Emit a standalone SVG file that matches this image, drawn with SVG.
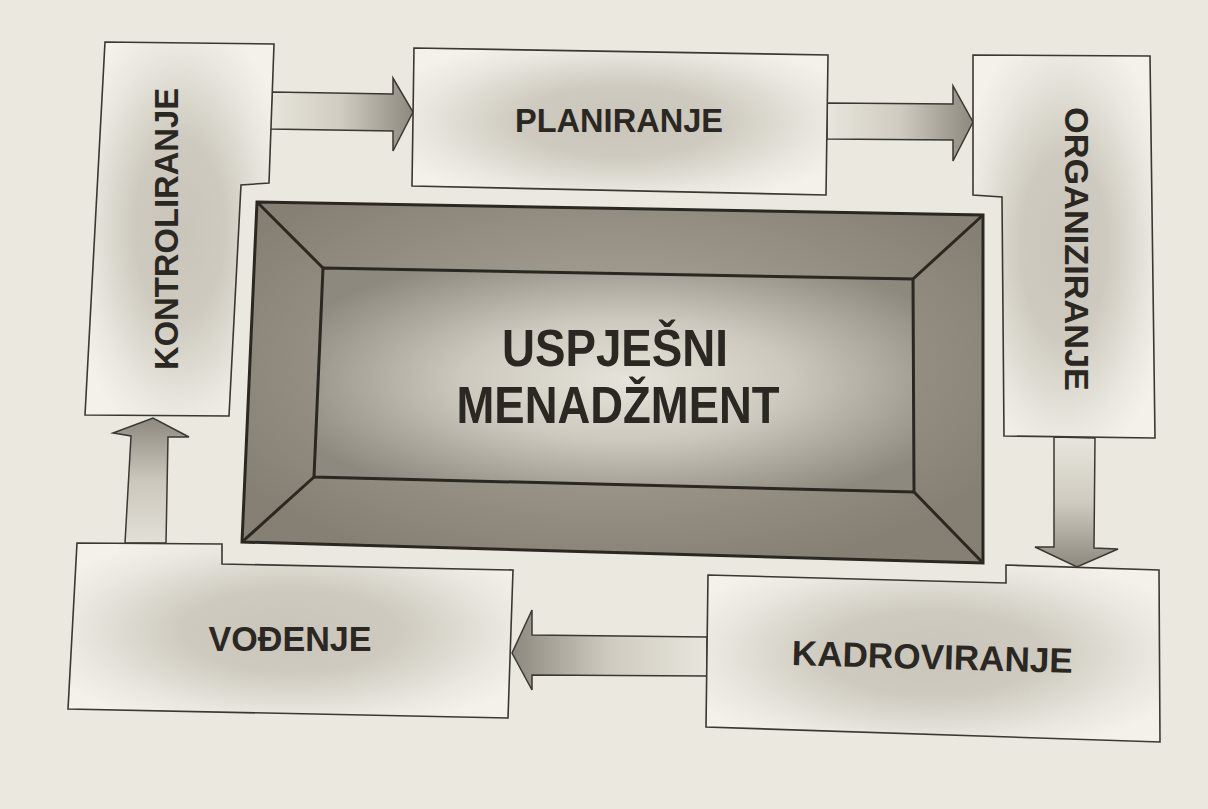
<svg xmlns="http://www.w3.org/2000/svg" width="1208" height="809" viewBox="0 0 1208 809">
  <defs>
    <radialGradient id="boxFill" cx="0.5" cy="0.5" r="0.6">
      <stop offset="0" stop-color="#c9c5ba"/>
      <stop offset="0.4" stop-color="#cecabf"/>
      <stop offset="0.8" stop-color="#e9e7df"/>
      <stop offset="1" stop-color="#f3f1ea"/>
    </radialGradient>
    <radialGradient id="bevelFill" cx="0.5" cy="0.45" r="0.6">
      <stop offset="0" stop-color="#b1aca0"/>
      <stop offset="1" stop-color="#857f74"/>
    </radialGradient>
    <radialGradient id="innerFill" cx="0.52" cy="0.5" r="0.6">
      <stop offset="0" stop-color="#e6e3da"/>
      <stop offset="0.45" stop-color="#cdc9be"/>
      <stop offset="1" stop-color="#8e897e"/>
    </radialGradient>
    <linearGradient id="arrRight" x1="0" y1="0" x2="1" y2="0">
      <stop offset="0" stop-color="#e8e5dc"/>
      <stop offset="0.5" stop-color="#cfcbc0"/>
      <stop offset="1" stop-color="#8e897e"/>
    </linearGradient>
    <linearGradient id="arrLeft" x1="1" y1="0" x2="0" y2="0">
      <stop offset="0" stop-color="#e8e5dc"/>
      <stop offset="0.5" stop-color="#cfcbc0"/>
      <stop offset="1" stop-color="#8e897e"/>
    </linearGradient>
    <linearGradient id="arrDown" x1="0" y1="0" x2="0" y2="1">
      <stop offset="0" stop-color="#e8e5dc"/>
      <stop offset="0.5" stop-color="#cfcbc0"/>
      <stop offset="1" stop-color="#8e897e"/>
    </linearGradient>
    <linearGradient id="arrUp" x1="0" y1="1" x2="0" y2="0">
      <stop offset="0" stop-color="#e2dfd6"/>
      <stop offset="0.5" stop-color="#cbc7bc"/>
      <stop offset="1" stop-color="#8e897e"/>
    </linearGradient>
  </defs>
  <style>
    .box { fill: url(#boxFill); stroke: #3b3731; stroke-width: 1.6; stroke-linejoin: miter; }
    .arrow { stroke: #3b3731; stroke-width: 1.5; stroke-linejoin: miter; }
    .bevel { fill: url(#bevelFill); stroke: #2b2721; stroke-width: 3; stroke-linejoin: miter; }
    .inner { fill: url(#innerFill); stroke: #2b2721; stroke-width: 3; stroke-linejoin: miter; }
    .edge { stroke: #2b2721; stroke-width: 3; fill: none; }
    .lbl { font-family: "Liberation Sans", Arial, sans-serif; font-weight: bold; fill: #2b2722; text-anchor: middle; }
  </style>

  <rect x="0" y="0" width="1208" height="809" fill="#ebe8df"/>

  <g id="connectors">
    <polygon class="arrow" fill="url(#arrRight)" points="272,92 393,94 393,78 413,112 393,151 393,131 270,129"/>
    <polygon class="arrow" fill="url(#arrRight)" points="827,103 953,104 953,86 973,122 953,161 953,140 827,139"/>
    <polygon class="arrow" fill="url(#arrDown)" points="1054,437 1095,438 1094,548 1118,549 1077,567 1035,547 1054,547"/>
    <polygon class="arrow" fill="url(#arrLeft)" points="707,637 532,635 532,610 512,653 532,690 532,675 707,676"/>
    <polygon class="arrow" fill="url(#arrUp)" points="125,543 131,436 113,433 153,418 189,437 168,437 166,543"/>
  </g>

  <g id="kontroliranje">
    <polygon class="box" points="105,42 274,44 269,183 241,185 229,416 85,415"/>
    <text class="lbl" font-size="33" textLength="282" lengthAdjust="spacingAndGlyphs" transform="translate(178,229) rotate(-90)" x="0" y="0">KONTROLIRANJE</text>
  </g>

  <g id="planiranje">
    <polygon class="box" points="414,48 828,55 826,195 412,186"/>
    <text class="lbl" font-size="33" textLength="208" lengthAdjust="spacingAndGlyphs" x="619" y="132">PLANIRANJE</text>
  </g>

  <g id="organiziranje">
    <polygon class="box" points="973,55 1150,56 1155,438 1004,436 1002,197 973,195"/>
    <text class="lbl" font-size="34" textLength="284" lengthAdjust="spacingAndGlyphs" transform="translate(1065,249) rotate(90)" x="0" y="0">ORGANIZIRANJE</text>
  </g>

  <g id="kadroviranje">
    <polygon class="box" points="708,575 1006,583 1006,565 1159,570 1160,742 706,727"/>
    <text class="lbl" font-size="35" textLength="281" lengthAdjust="spacingAndGlyphs" transform="rotate(1.6 932 669)" x="932" y="669">KADROVIRANJE</text>
  </g>

  <g id="vodjenje">
    <polygon class="box" points="77,543 222,544 222,564 513,570 508,718 68,709"/>
    <text class="lbl" font-size="35" textLength="163" lengthAdjust="spacingAndGlyphs" x="290" y="651">VOĐENJE</text>
  </g>

  <g id="uspjesni-menadzment">
    <polygon class="bevel" points="257,202 983,215 983,563 242,542"/>
    <polygon class="inner" points="323,268 913,279 914,492 314,477"/>
    <line class="edge" x1="257" y1="202" x2="323" y2="268"/>
    <line class="edge" x1="983" y1="215" x2="913" y2="279"/>
    <line class="edge" x1="983" y1="563" x2="914" y2="492"/>
    <line class="edge" x1="242" y1="542" x2="314" y2="477"/>
    <text class="lbl" font-size="51" textLength="226" lengthAdjust="spacingAndGlyphs" x="615" y="366">USPJEŠNI</text>
    <text class="lbl" font-size="51" textLength="323" lengthAdjust="spacingAndGlyphs" x="618" y="423">MENADŽMENT</text>
  </g>
</svg>
